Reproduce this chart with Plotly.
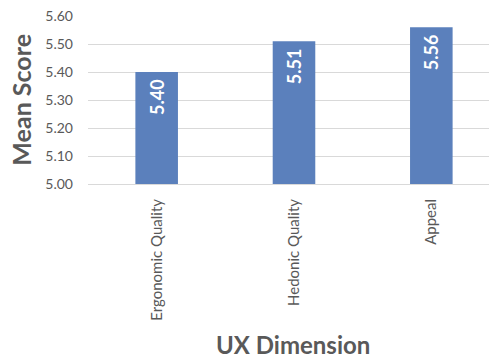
import plotly.graph_objects as go

# UX dimension mean scores
categories = ["Ergonomic Quality", "Hedonic Quality", "Appeal"]
mean_scores = [5.40, 5.51, 5.56]
y_ticks = [5.00, 5.10, 5.20, 5.30, 5.40, 5.50, 5.60]
y_tick_labels = ["5.00", "5.10", "5.20", "5.30", "5.40", "5.50", "5.60"]

GRAY = "#595959"
FONT = "Lato, 'Open Sans', sans-serif"

fig = go.Figure(
    go.Bar(
        x=categories,
        y=mean_scores,
        width=0.31,
        marker=dict(color="#5B80BC", line=dict(width=0)),
        text=[f"{v:.2f}\u00a0" for v in mean_scores],
        textposition="inside",
        insidetextanchor="end",
        textangle=-90,
        textfont=dict(color="white", size=18, family=FONT, weight="bold"),
        cliponaxis=False,
    )
)

fig.update_layout(
    width=489,
    height=360,
    margin=dict(l=88, r=0, t=16, b=176),
    plot_bgcolor="white",
    paper_bgcolor="white",
    showlegend=False,
    font=dict(family=FONT, color=GRAY),
    xaxis=dict(
        range=[-0.5, 2.42],
        tickangle=-90,
        tickfont=dict(size=15, color=GRAY),
        showgrid=False,
        showline=True,
        linecolor="#d9d9d9",
        linewidth=1,
        ticks="",
        ticklabelstandoff=8,
    ),
    yaxis=dict(
        range=[5.0, 5.6],
        tickvals=y_ticks,
        ticktext=y_tick_labels,
        tickfont=dict(size=14, color=GRAY),
        showgrid=True,
        gridcolor="#d9d9d9",
        gridwidth=1,
        zeroline=False,
        showline=False,
        ticks="",
        ticklabelstandoff=14,
    ),
    annotations=[
        dict(
            text="<b>Mean Score</b>",
            xref="paper", yref="paper",
            x=-0.168, y=0.5,
            xanchor="center", yanchor="middle",
            textangle=-90,
            showarrow=False,
            font=dict(size=25, color=GRAY, family=FONT),
        ),
        dict(
            text="<b>UX Dimension</b>",
            xref="paper", yref="paper",
            x=0.512, y=-0.955,
            xanchor="center", yanchor="middle",
            showarrow=False,
            font=dict(size=24, color=GRAY, family=FONT),
        ),
    ],
)

fig.write_html("out.html")
